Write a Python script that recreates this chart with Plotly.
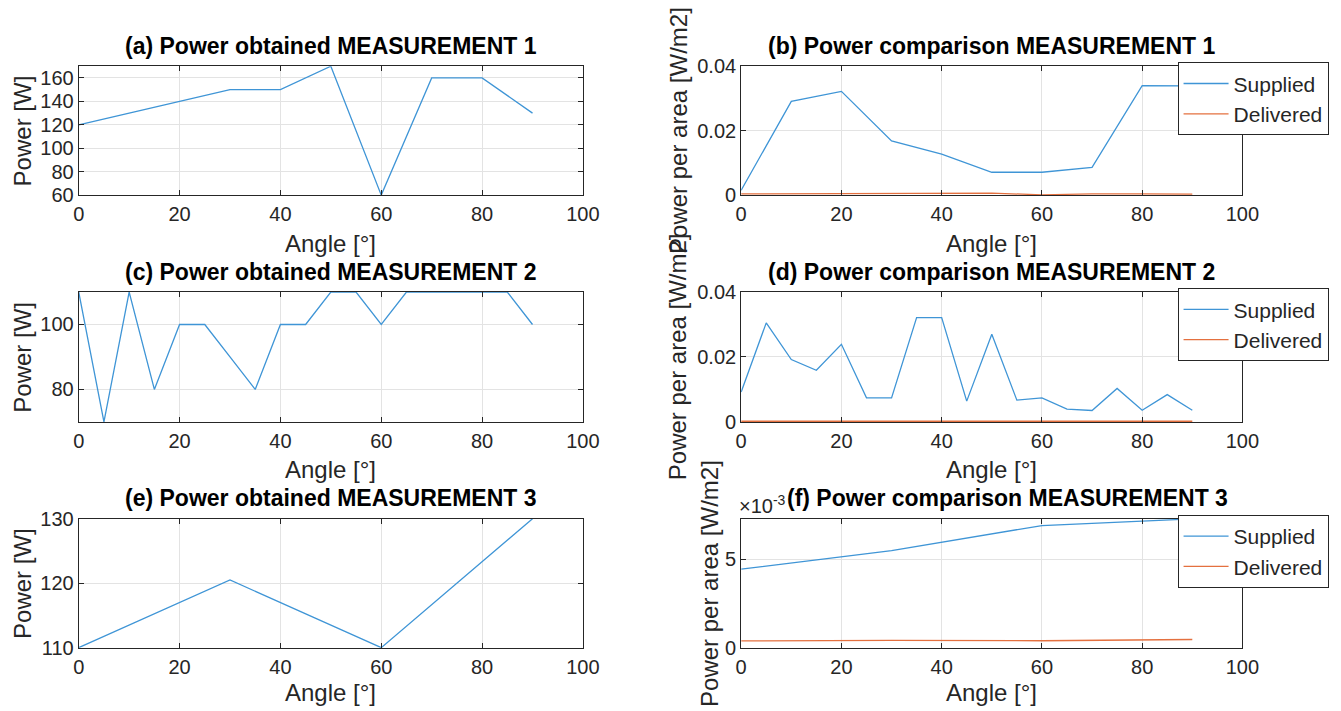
import plotly.graph_objects as go

# ---------------- data ----------------
angle_m1 = [0, 10, 20, 30, 40, 50, 60, 70, 80, 90]
power_m1 = [120, 130, 140, 150, 150, 170, 60, 160, 160, 130]
supplied_m1 = [0.0015, 0.0291, 0.0322, 0.0168, 0.0127, 0.0071, 0.0071, 0.0086, 0.0340, 0.0339]
delivered_m1 = [0.0004, 0.0004, 0.0005, 0.0005, 0.0005, 0.0006, 0.0001, 0.0004, 0.0004, 0.0003]

angle_m2 = [0, 5, 10, 15, 20, 25, 30, 35, 40, 45, 50, 55, 60, 65, 70, 75, 80, 85, 90]
power_m2 = [110, 70, 110, 80, 100, 100, 90, 80, 100, 100, 110, 110, 100, 110, 110, 110, 110, 110, 100]
supplied_m2 = [0.0092, 0.0305, 0.0192, 0.0159, 0.0239, 0.0074, 0.0074, 0.0321, 0.0321, 0.0064,
               0.0270, 0.0067, 0.0074, 0.0039, 0.0035, 0.0103, 0.0036, 0.0084, 0.0036]
delivered_m2 = [0.0002, 0.0002, 0.0003, 0.0002, 0.0002, 0.0002, 0.0002, 0.0002, 0.0002, 0.0002,
                0.0002, 0.0002, 0.0002, 0.0002, 0.0002, 0.0002, 0.0002, 0.0002, 0.0002]

angle_m3 = [0, 30, 60, 90]
power_m3 = [110, 120.5, 110, 130]
supplied_m3 = [0.00443, 0.00547, 0.00689, 0.00727]
delivered_m3 = [0.00038, 0.00041, 0.00039, 0.00046]

x_ticks = [0, 20, 40, 60, 80, 100]
titles = ["(a) Power obtained MEASUREMENT 1", "(b) Power comparison MEASUREMENT 1",
          "(c) Power obtained MEASUREMENT 2", "(d) Power comparison MEASUREMENT 2",
          "(e) Power obtained MEASUREMENT 3", "(f) Power comparison MEASUREMENT 3"]
series_names = ["Supplied", "Delivered"]

# ---------------- layout geometry (pixels) ----------------
W, H = 1341, 711
FONT = "Liberation Sans, Arial, Helvetica, sans-serif"
BLUE = "#3f95d6"
ORANGE = "#e4703f"
AX = "#262626"
GRID = "#e3e3e3"

cols = [(74, 587), (748, 1258)]
rows = [(57, 190), (290, 424), (524, 657)]
xlabel_y = [240, 473, 703]
ylabel_x = [[17, 684], [17, 684], [17, 716]]
title_shift = [[0, 0], [0, 0], [0, 16]]


def xd(a, b):
    return [a / W, b / W]


def yd(top, bot):
    return [1 - bot / H, 1 - top / H]


fig = go.Figure()

left_data = [(angle_m1, power_m1), (angle_m2, power_m2), (angle_m3, power_m3)]
right_data = [(angle_m1, supplied_m1, delivered_m1),
              (angle_m2, supplied_m2, delivered_m2),
              (angle_m3, supplied_m3, delivered_m3)]

y_left = [dict(range=[60, 170], tickvals=[60, 80, 100, 120, 140, 160]),
          dict(range=[70, 110], tickvals=[80, 100]),
          dict(range=[110, 130], tickvals=[110, 120, 130])]
y_right = [dict(range=[0, 0.04], tickvals=[0, 0.02, 0.04], ticktext=["0", "0.02", "0.04"]),
           dict(range=[0, 0.04], tickvals=[0, 0.02, 0.04], ticktext=["0", "0.02", "0.04"]),
           dict(range=[0, max(supplied_m3)], tickvals=[0, 0.005], ticktext=["0", "5"])]

axis_common = dict(showline=True, linecolor=AX, linewidth=1, mirror="ticks",
                   ticks="inside", ticklen=5, tickcolor=AX, tickwidth=1,
                   showgrid=True, gridcolor=GRID, gridwidth=1, zeroline=False,
                   tickfont=dict(family=FONT, size=20, color=AX))

legends = ["legend", "legend2", "legend3"]
annotations = []
n = 0
for r in range(3):
    for c in range(2):
        n += 1
        xa = "x" if n == 1 else f"x{n}"
        ya = "y" if n == 1 else f"y{n}"
        xkey = "xaxis" if n == 1 else f"xaxis{n}"
        ykey = "yaxis" if n == 1 else f"yaxis{n}"
        if c == 0:
            ax_x, ax_y = left_data[r]
            fig.add_trace(go.Scatter(x=ax_x, y=ax_y, mode="lines", xaxis=xa, yaxis=ya,
                                     line=dict(color=BLUE, width=1.3), showlegend=False))
            ycfg = y_left[r]
        else:
            ax_x, sup, dlv = right_data[r]
            fig.add_trace(go.Scatter(x=ax_x, y=sup, mode="lines", xaxis=xa, yaxis=ya,
                                     name=series_names[0], legend=legends[r],
                                     line=dict(color=BLUE, width=1.3)))
            fig.add_trace(go.Scatter(x=ax_x, y=dlv, mode="lines", xaxis=xa, yaxis=ya,
                                     name=series_names[1], legend=legends[r],
                                     line=dict(color=ORANGE, width=1.3)))
            ycfg = y_right[r]
        x0, x1 = cols[c]
        top, bot = rows[r]
        fig.layout[xkey] = dict(domain=xd(x0, x1), anchor=ya, range=[0, 100],
                                tickvals=x_ticks, ticklabelstandoff=1, **axis_common)
        fig.layout[ykey] = dict(domain=yd(top, bot), anchor=xa, ticklabelstandoff=0,
                                **ycfg, **axis_common)
        # subplot title
        annotations.append(dict(text="<b>" + titles[n - 1] + "</b>", xref="paper", yref="paper",
                                x=((x0 + x1) / 2 + title_shift[r][c]) / W, y=1 - (top - 21) / H,
                                xanchor="center", yanchor="middle", showarrow=False,
                                font=dict(family=FONT, size=23, color="black")))
        # x axis title
        annotations.append(dict(text="Angle [°]", xref="paper", yref="paper",
                                x=(x0 + x1) / 2 / W, y=1 - xlabel_y[r] / H,
                                xanchor="center", yanchor="middle", showarrow=False,
                                font=dict(family=FONT, size=24, color=AX)))
        # y axis title
        ytxt = "Power [W]" if c == 0 else "Power per area [W/m2]"
        annotations.append(dict(text=ytxt, xref="paper", yref="paper",
                                x=ylabel_x[r][c] / W, y=1 - (top + bot) / 2 / H, textangle=-90,
                                xanchor="center", yanchor="middle", showarrow=False,
                                font=dict(family=FONT, size=24, color=AX)))

# exponent label for (f)
annotations.append(dict(text="×10<sup>-3</sup>", xref="paper", yref="paper",
                        x=744 / W, y=1 - 509 / H, xanchor="left", yanchor="middle",
                        showarrow=False, font=dict(family=FONT, size=20, color=AX)))

leg_common = dict(xanchor="left", yanchor="top", bgcolor="white", bordercolor=AX,
                  borderwidth=1, font=dict(family=FONT, size=21, color=AX),
                  itemwidth=45, tracegroupgap=0)
fig.update_layout(
    width=W, height=H, margin=dict(l=0, r=0, t=0, b=0),
    paper_bgcolor="white", plot_bgcolor="white",
    font=dict(family=FONT, color=AX),
    annotations=annotations,
    legend=dict(x=1192 / W, y=1 - 53 / H, **leg_common),
    legend2=dict(x=1192 / W, y=1 - 286 / H, **leg_common),
    legend3=dict(x=1192 / W, y=1 - 520 / H, **leg_common),
)

fig.write_html("out.html")
